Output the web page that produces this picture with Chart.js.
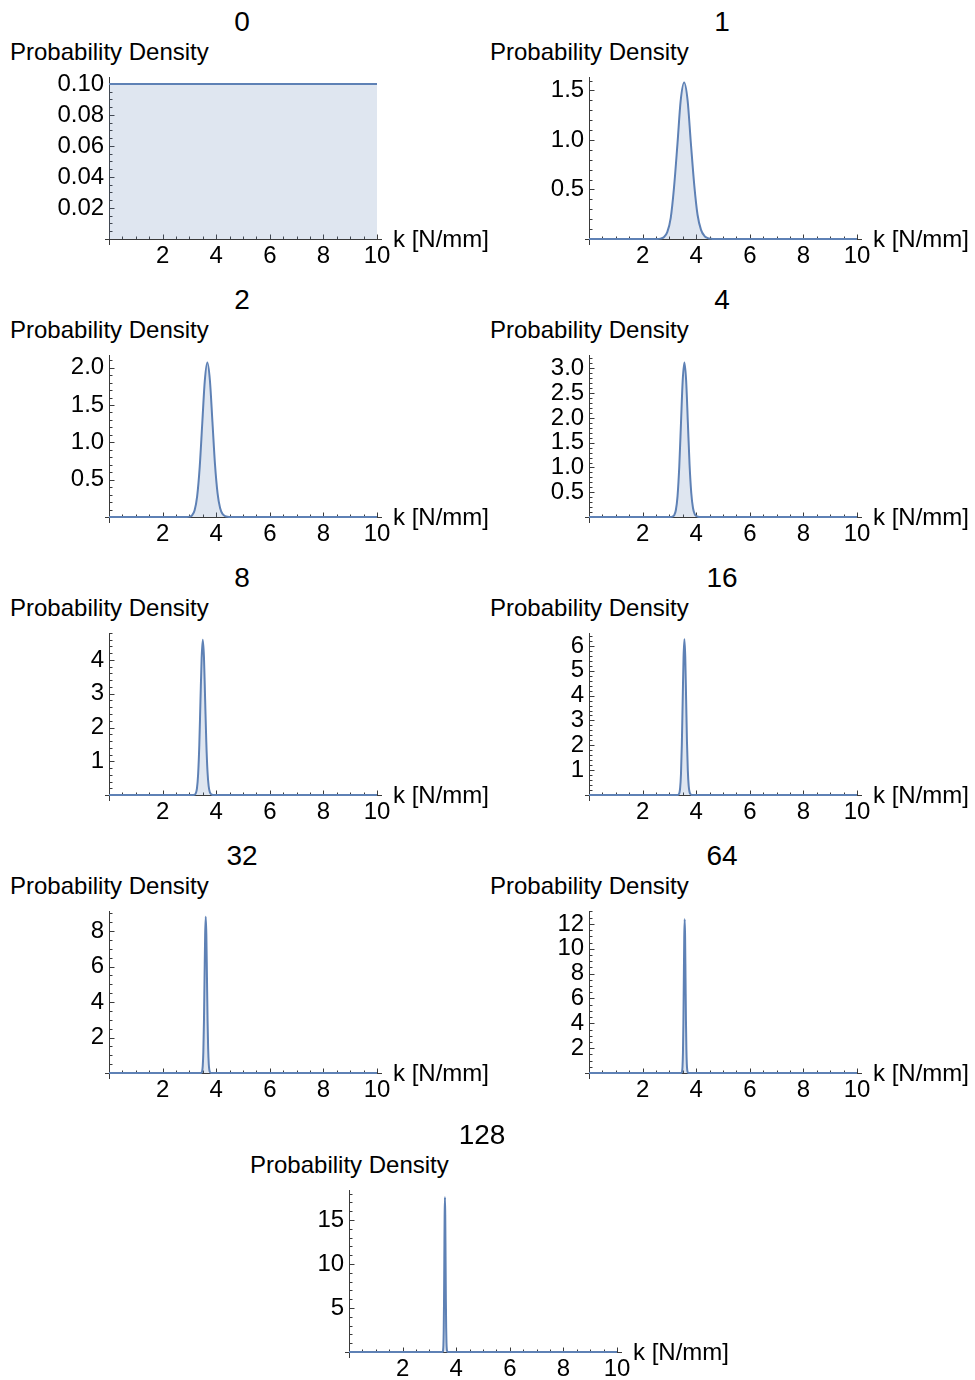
<!DOCTYPE html>
<html><head><meta charset="utf-8">
<script src="https://cdn.jsdelivr.net/npm/chart.js@4/dist/chart.umd.min.js"></script>
<style>
html,body{margin:0;padding:0;background:#fff;}
body{width:975px;height:1380px;position:relative;overflow:hidden;font-family:"Liberation Sans",Arial,sans-serif;}
canvas{position:absolute;}
.t{position:absolute;white-space:nowrap;color:#000;line-height:1;}
</style></head><body>
<script>
// ---------------- DATA ----------------
const panelTitles = ['0', '1', '2', '4', '8', '16', '32', '64', '128'];
const yAxisTitle = 'Probability Density';
const xAxisTitle = 'k [N/mm]';
const xTicks = [2, 4, 6, 8, 10];
const xTickLabels = ['2', '4', '6', '8', '10'];

const k_0 = [0, 10];
const density_0 = [0.1, 0.1];

const k_1 = [0, 2.54, 2.67, 2.79, 2.92, 3.05, 3.17, 3.30, 3.42, 3.55, 3.68, 3.80, 3.93, 4.05, 4.18, 4.31, 4.43, 4.56, 4.68, 10];
const density_1 = [0, 0.0005, 0.0035, 0.018, 0.069, 0.214, 0.513, 0.958, 1.394, 1.58, 1.398, 0.972, 0.537, 0.245, 0.092, 0.030, 0.0095, 0.0024, 0.0005, 0];

const k_2 = [0, 2.91, 3.005, 3.10, 3.195, 3.29, 3.385, 3.48, 3.575, 3.67, 3.765, 3.86, 3.955, 4.05, 4.145, 4.24, 4.335, 4.43, 4.525, 10];
const density_2 = [0, 0.0006, 0.0046, 0.023, 0.091, 0.280, 0.672, 1.255, 1.827, 2.07, 1.832, 1.273, 0.704, 0.321, 0.120, 0.039, 0.0124, 0.0031, 0.0006, 0];

const k_4 = [0, 3.048, 3.112, 3.176, 3.240, 3.304, 3.368, 3.432, 3.496, 3.56, 3.624, 3.688, 3.752, 3.816, 3.880, 3.944, 4.008, 4.072, 4.136, 10];
const density_4 = [0, 0.0009, 0.0069, 0.035, 0.137, 0.422, 1.013, 1.892, 2.753, 3.12, 2.761, 1.919, 1.061, 0.484, 0.181, 0.059, 0.019, 0.0047, 0.0009, 0];

const k_8 = [0, 3.152, 3.196, 3.239, 3.283, 3.326, 3.370, 3.413, 3.457, 3.50, 3.544, 3.587, 3.631, 3.674, 3.718, 3.761, 3.805, 3.848, 3.892, 10];
const density_8 = [0, 0.0014, 0.010, 0.051, 0.202, 0.622, 1.494, 2.790, 4.060, 4.60, 4.071, 2.829, 1.564, 0.713, 0.267, 0.087, 0.028, 0.0069, 0.0014, 0];

const k_16 = [0, 3.304, 3.336, 3.368, 3.400, 3.432, 3.464, 3.496, 3.528, 3.56, 3.592, 3.624, 3.656, 3.688, 3.720, 3.752, 3.784, 3.816, 3.848, 10];
const density_16 = [0, 0.0019, 0.014, 0.070, 0.275, 0.848, 2.036, 3.803, 5.533, 6.27, 5.549, 3.856, 2.132, 0.972, 0.364, 0.119, 0.038, 0.0094, 0.0019, 0];

const k_32 = [0, 3.43, 3.4525, 3.475, 3.4975, 3.52, 3.5425, 3.565, 3.5875, 3.61, 3.6325, 3.655, 3.6775, 3.70, 3.7225, 3.745, 3.7675, 3.79, 3.8125, 10];
const density_32 = [0, 0.0026, 0.019, 0.098, 0.387, 1.192, 2.861, 5.343, 7.775, 8.81, 7.797, 5.418, 2.995, 1.366, 0.511, 0.167, 0.053, 0.013, 0.0026, 0];

const k_64 = [0, 3.442, 3.458, 3.474, 3.490, 3.506, 3.522, 3.538, 3.554, 3.570, 3.586, 3.602, 3.618, 3.634, 3.650, 3.666, 3.682, 3.698, 3.714, 10];
const density_64 = [0, 0.0037, 0.027, 0.137, 0.543, 1.674, 4.017, 7.502, 10.917, 12.37, 10.947, 7.608, 4.206, 1.917, 0.717, 0.235, 0.074, 0.019, 0.0037, 0];

const k_128 = [0, 3.488, 3.4995, 3.511, 3.5225, 3.534, 3.5455, 3.557, 3.5685, 3.58, 3.5915, 3.603, 3.6145, 3.626, 3.6375, 3.649, 3.6605, 3.672, 3.6835, 10];
const density_128 = [0, 0.0053, 0.039, 0.195, 0.772, 2.379, 5.708, 10.662, 15.514, 17.58, 15.558, 10.812, 5.977, 2.725, 1.020, 0.334, 0.105, 0.026, 0.0053, 0];

const yTicks_0 = [0.02, 0.04, 0.06, 0.08, 0.10];
const yTickLabels_0 = ['0.02', '0.04', '0.06', '0.08', '0.10'];
const yTicks_1 = [0.5, 1.0, 1.5];
const yTickLabels_1 = ['0.5', '1.0', '1.5'];
const yTicks_2 = [0.5, 1.0, 1.5, 2.0];
const yTickLabels_2 = ['0.5', '1.0', '1.5', '2.0'];
const yTicks_4 = [0.5, 1.0, 1.5, 2.0, 2.5, 3.0];
const yTickLabels_4 = ['0.5', '1.0', '1.5', '2.0', '2.5', '3.0'];
const yTicks_8 = [1, 2, 3, 4];
const yTickLabels_8 = ['1', '2', '3', '4'];
const yTicks_16 = [1, 2, 3, 4, 5, 6];
const yTickLabels_16 = ['1', '2', '3', '4', '5', '6'];
const yTicks_32 = [2, 4, 6, 8];
const yTickLabels_32 = ['2', '4', '6', '8'];
const yTicks_64 = [2, 4, 6, 8, 10, 12];
const yTickLabels_64 = ['2', '4', '6', '8', '10', '12'];
const yTicks_128 = [5, 10, 15];
const yTickLabels_128 = ['5', '10', '15'];

// ---------------- LAYOUT / STYLE ----------------
const yMaxes = [0.1045, 1.636, 2.17, 3.27, 4.8, 6.52, 9.13, 13.04, 18.4];
const yMinorSteps = [0.005, 0.1, 0.1, 0.1, 0.2, 0.2, 0.5, 0.5, 1];
const originX = [109, 589, 109, 589, 109, 589, 109, 589, 349];
const originY = [239, 239, 517, 517, 795, 795, 1073, 1073, 1352];

const LINE = '#5E81B5';
const FILL = 'rgba(94,129,181,0.2)';
const AXIS = '#3a3a3a';
const FONT = '"Liberation Sans", Arial, sans-serif';
const X_MIN = -0.12, X_MAX = 10.15;
const PLOT_H = 162;      // px from y=0 to top of axis
const BELOW = 5;         // px of axis below y=0
const CW = 390, CH = 200, OFF_L = 100, OFF_T = 170;

const curves = [
  [k_0, density_0], [k_1, density_1], [k_2, density_2], [k_4, density_4], [k_8, density_8],
  [k_16, density_16], [k_32, density_32], [k_64, density_64], [k_128, density_128]
];
const yTickSets = [
  [yTicks_0, yTickLabels_0], [yTicks_1, yTickLabels_1], [yTicks_2, yTickLabels_2], [yTicks_4, yTickLabels_4],
  [yTicks_8, yTickLabels_8], [yTicks_16, yTickLabels_16], [yTicks_32, yTickLabels_32], [yTicks_64, yTickLabels_64],
  [yTicks_128, yTickLabels_128]
];

const innerTicks = {
  id: 'innerTicks',
  beforeDatasetsDraw(chart, args, opts) {
    const {ctx} = chart;
    const xs = chart.scales.x, ys = chart.scales.y;
    const x0 = Math.round(xs.getPixelForValue(0)) + 0.5;
    const y0 = Math.round(ys.getPixelForValue(0)) + 0.5;
    ctx.save();
    ctx.strokeStyle = AXIS;
    ctx.lineWidth = 1;
    ctx.beginPath();
    for (let i = 1; i <= 20; i++) {
      const v = i * 0.5;
      const px = Math.round(xs.getPixelForValue(v)) + 0.5;
      const len = (i % 4 === 0) ? 5 : 3;
      ctx.moveTo(px, y0); ctx.lineTo(px, y0 - len);
    }
    const step = opts.minor, majors = opts.majors;
    for (let i = 1; i * step <= ys.max + 1e-9; i++) {
      const v = i * step;
      const py = Math.round(ys.getPixelForValue(v)) + 0.5;
      const isMajor = majors.some(m => Math.abs(m - v) < step * 0.01);
      ctx.moveTo(x0, py); ctx.lineTo(x0 + (isMajor ? 5 : 3), py);
    }
    ctx.stroke();
    ctx.restore();
  }
};

function addText(txt, left, top, size, center) {
  const d = document.createElement('div');
  d.className = 't';
  d.textContent = txt;
  d.style.left = left + 'px';
  d.style.top = top + 'px';
  d.style.fontSize = size + 'px';
  d.style.transform = center ? 'translate(-50%,-50%)' : 'translate(0,-50%)';
  document.body.appendChild(d);
}

curves.forEach((cv, i) => {
  const X0 = originX[i], B = originY[i];
  const ppx = 268 / 10;
  const yMax = yMaxes[i];
  const yMin = -yMax * BELOW / PLOT_H;
  const canvas = document.createElement('canvas');
  canvas.width = CW; canvas.height = CH;
  canvas.style.left = (X0 - OFF_L) + 'px';
  canvas.style.top = (B - OFF_T) + 'px';
  canvas.style.width = CW + 'px'; canvas.style.height = CH + 'px';
  document.body.appendChild(canvas);

  addText(panelTitles[i], X0 + 133, B - 217, 28, true);
  addText(yAxisTitle, X0 - 99, B - 187, 24, false);
  addText(xAxisTitle, X0 + 284, B, 24, false);

  const [ks, ds] = cv;
  const pts = ks.map((k, j) => ({x: k, y: ds[j]}));
  const [yt, ytl] = yTickSets[i];

  new Chart(canvas, {
    type: 'line',
    data: {
      datasets: [{
        data: pts,
        borderColor: LINE,
        backgroundColor: FILL,
        borderWidth: 2,
        fill: 'origin',
        pointRadius: 0,
        cubicInterpolationMode: 'monotone'
      }]
    },
    options: {
      responsive: false,
      animation: false,
      devicePixelRatio: 1,
      layout: {
        padding: {
          left: OFF_L + X_MIN * ppx,
          right: CW - OFF_L - X_MAX * ppx,
          top: OFF_T - PLOT_H,
          bottom: CH - OFF_T - BELOW
        }
      },
      plugins: {
        legend: {display: false},
        tooltip: {enabled: false},
        innerTicks: {minor: yMinorSteps[i], majors: yt}
      },
      scales: {
        x: {
          type: 'linear',
          min: X_MIN, max: X_MAX,
          position: {y: 0},
          afterBuildTicks: s => { s.ticks = xTicks.map(v => ({value: v})); },
          afterFit: s => { s.height = 0; s.paddingLeft = 0; s.paddingRight = 0; },
          grid: {display: true, drawOnChartArea: false, drawTicks: false, color: 'rgba(0,0,0,0)'},
          border: {display: true, color: AXIS, width: 1},
          ticks: {
            autoSkip: false, maxRotation: 0, padding: 3, color: '#000',
            font: {family: FONT, size: 24},
            callback: (v, idx) => xTickLabels[idx]
          }
        },
        y: {
          type: 'linear',
          min: yMin, max: yMax,
          position: {x: 0},
          afterBuildTicks: s => { s.ticks = yt.map(v => ({value: v})); },
          afterFit: s => { s.width = 0; s.paddingTop = 0; s.paddingBottom = 0; },
          grid: {display: true, drawOnChartArea: false, drawTicks: false, color: 'rgba(0,0,0,0)'},
          border: {display: true, color: AXIS, width: 1},
          ticks: {
            autoSkip: false, padding: 6, color: '#000',
            font: {family: FONT, size: 24},
            callback: (v, idx) => ytl[idx] + '\u2009'
          }
        }
      }
    },
    plugins: [innerTicks]
  });
});
</script>
</body></html>
